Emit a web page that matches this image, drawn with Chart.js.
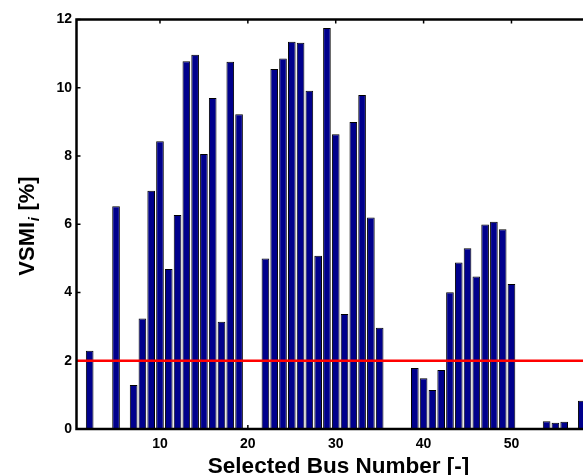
<!DOCTYPE html>
<html>
<head>
<meta charset="utf-8">
<script src="https://cdn.jsdelivr.net/npm/chart.js@4/dist/chart.umd.min.js"></script>
<style>
  html, body { margin: 0; padding: 0; background: #fff; }
  #wrap { width: 583px; height: 475px; position: relative; }
</style>
</head>
<body>
<div id="wrap"><canvas id="myChart"></canvas></div>
<script>
// bus numbers and their voltage stability margin index (%)
const busNumbers = [
  1, 2, 3, 4, 5, 6, 7, 8, 9, 10,
  11, 12, 13, 14, 15, 16, 17, 18, 19, 20,
  21, 22, 23, 24, 25, 26, 27, 28, 29, 30,
  31, 32, 33, 34, 35, 36, 37, 38, 39, 40,
  41, 42, 43, 44, 45, 46, 47, 48, 49, 50,
  51, 52, 53, 54, 55, 56, 57, 58
];
const vsmi = [
  0, 2.29, 0, 0, 6.53, 0, 1.29, 3.24, 6.98, 8.43,
  4.69, 6.27, 10.78, 10.97, 8.06, 9.70, 3.14, 10.76, 9.22, 0,
  0, 5.00, 10.55, 10.86, 11.35, 11.32, 9.91, 5.08, 11.75, 8.64,
  3.37, 9.00, 9.79, 6.20, 2.97, 0, 0, 0, 1.79, 1.49,
  1.14, 1.73, 4.01, 4.88, 5.30, 4.47, 5.99, 6.07, 5.85, 4.25,
  0, 0, 0, 0.23, 0.18, 0.21, 0, 0.83
];
const threshold = 2;
const xTicks = [10, 20, 30, 40, 50];
const yTicks = [0, 2, 4, 6, 8, 10, 12];

const FONT = 'Liberation Sans';

// box round the axes with small inward tick marks, plus the two axis titles
const axesPlugin = {
  id: 'matlabAxes',
  beforeDatasetsDraw(chart) {
    const {ctx, chartArea: a, scales: {x, y}} = chart;
    ctx.save();
    ctx.strokeStyle = '#000';
    ctx.lineWidth = 1.5;
    ctx.beginPath();
    xTicks.forEach(v => {
      const px = x.getPixelForValue(v);
      ctx.moveTo(px, a.bottom); ctx.lineTo(px, a.bottom - 4);
      ctx.moveTo(px, a.top); ctx.lineTo(px, a.top + 4);
    });
    yTicks.forEach(v => {
      const py = y.getPixelForValue(v);
      ctx.moveTo(a.left, py); ctx.lineTo(a.left + 4, py);
    });
    ctx.stroke();
    ctx.restore();
  },
  afterDraw(chart) {
    const {ctx, chartArea: a} = chart;
    ctx.save();
    ctx.strokeStyle = '#000';
    ctx.lineWidth = 2.5;
    ctx.lineCap = 'square';
    ctx.beginPath();
    ctx.moveTo(chart.width + 2, a.top);
    ctx.lineTo(a.left, a.top);
    ctx.lineTo(a.left, a.bottom);
    ctx.lineTo(chart.width + 2, a.bottom);
    ctx.stroke();

    // x title
    ctx.fillStyle = '#000';
    ctx.font = 'bold 22.5px "' + FONT + '"';
    ctx.textAlign = 'center';
    ctx.textBaseline = 'alphabetic';
    ctx.fillText('Selected Bus Number [-]', 338.5, 472.5);

    // y title with italic subscript
    const main = 'bold 22px "' + FONT + '"';
    const sub = 'bold italic 15px "' + FONT + '"';
    ctx.font = main;
    const w1 = ctx.measureText('VSMI').width;
    const w3 = ctx.measureText(' [%]').width;
    ctx.font = sub;
    const w2 = ctx.measureText('i').width + 1;
    const total = w1 + w2 + w3;
    ctx.translate(34, 226);
    ctx.rotate(-Math.PI / 2);
    ctx.textAlign = 'left';
    let px = -total / 2;
    ctx.font = main;
    ctx.fillText('VSMI', px, 0);
    px += w1;
    ctx.font = sub;
    ctx.fillText('i', px + 0.5, 5);
    px += w2;
    ctx.font = main;
    ctx.fillText(' [%]', px, 0);
    ctx.restore();
  }
};

const ctx = document.getElementById('myChart').getContext('2d');
const myChart = new Chart(ctx, {
  type: 'bar',
  data: {
    datasets: [
      {
        type: 'bar',
        data: busNumbers.map((b, i) => ({x: b, y: vsmi[i]})),
        backgroundColor: 'rgb(0, 0, 140)',
        borderColor: '#000',
        borderWidth: c => (c.raw && c.raw.y > 0 ? 1 : 0),
        borderSkipped: false,
        barPercentage: 0.87,
        categoryPercentage: 1,
        order: 2
      },
      {
        type: 'line',
        data: [{x: 0, y: threshold}, {x: 60, y: threshold}],
        borderColor: 'rgb(255, 0, 0)',
        borderWidth: 2.5,
        pointRadius: 0,
        order: 1
      }
    ]
  },
  options: {
    responsive: true,
    maintainAspectRatio: false,
    animation: false,
    events: [],
    layout: { padding: { top: 19.5, right: 0, left: 0, bottom: 0 } },
    plugins: { legend: { display: false }, tooltip: { enabled: false } },
    scales: {
      x: {
        type: 'linear',
        min: 0.5,
        max: 58.14,
        offset: false,
        grid: { display: false, drawTicks: false },
        border: { display: false },
        afterBuildTicks: s => { s.ticks = xTicks.map(v => ({value: v})); },
        afterFit: s => { s.height = 46; },
        ticks: {
          padding: 7,
          color: '#000',
          maxRotation: 0,
          autoSkip: false,
          font: { family: FONT, size: 14, weight: 'bold' }
        }
      },
      y: {
        min: 0,
        max: 12,
        grid: { display: false, drawTicks: false },
        border: { display: false },
        afterBuildTicks: s => { s.ticks = yTicks.map(v => ({value: v})); },
        afterFit: s => { s.width = 76.5; },
        ticks: {
          padding: 4.5,
          color: '#000',
          font: { family: FONT, size: 14, weight: 'bold' }
        }
      }
    }
  },
  plugins: [axesPlugin]
});
</script>
</body>
</html>
